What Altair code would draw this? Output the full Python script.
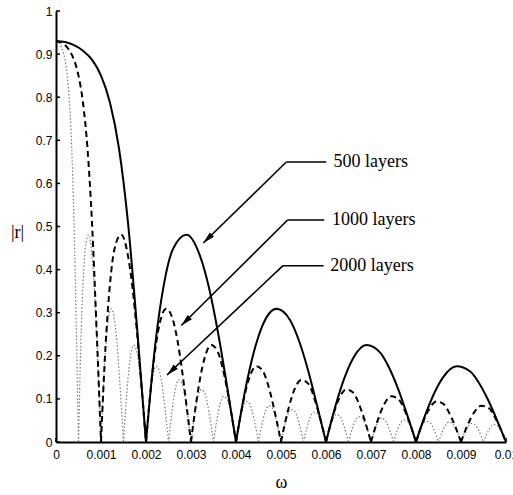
import math
import altair as alt
import pandas as pd

# ---------------- data ----------------
# 500 layers (solid) : one list per lobe
omega_500 = [
    [0, 0.0002, 0.0004, 0.0006, 0.0008, 0.0010, 0.0012, 0.0014, 0.0016, 0.0018, 0.0020],
    [0.0020, 0.0022, 0.0024, 0.0026, 0.0029, 0.0032, 0.0034, 0.0036, 0.0038, 0.0040],
    [0.0040, 0.0042, 0.0044, 0.0046, 0.0049, 0.0052, 0.0054, 0.0056, 0.0058, 0.0060],
    [0.0060, 0.0062, 0.0064, 0.0066, 0.0069, 0.0072, 0.0074, 0.0076, 0.0078, 0.0080],
    [0.0080, 0.0082, 0.0084, 0.0086, 0.0089, 0.0092, 0.0094, 0.0096, 0.0098, 0.0100],
]
r_500 = [
    [0.930, 0.928, 0.921, 0.908, 0.887, 0.850, 0.787, 0.681, 0.509, 0.267, 0],
    [0, 0.221, 0.367, 0.448, 0.481, 0.432, 0.358, 0.254, 0.130, 0],
    [0, 0.118, 0.210, 0.273, 0.309, 0.283, 0.235, 0.167, 0.085, 0],
    [0, 0.080, 0.146, 0.194, 0.225, 0.208, 0.173, 0.124, 0.064, 0],
    [0, 0.061, 0.112, 0.150, 0.176, 0.164, 0.137, 0.098, 0.051, 0],
]

# 1000 layers (dashed)
omega_1000 = [
    [0, 0.0001, 0.0002, 0.0003, 0.0004, 0.0005, 0.0006, 0.0007, 0.0008, 0.0009, 0.0010],
    [0.0010, 0.0011, 0.0012, 0.0013, 0.00145, 0.0016, 0.0017, 0.0018, 0.0019, 0.0020],
    [0.0020, 0.0021, 0.0022, 0.0023, 0.00245, 0.0026, 0.0027, 0.0028, 0.0029, 0.0030],
    [0.0030, 0.0031, 0.0032, 0.0033, 0.00345, 0.0036, 0.0037, 0.0038, 0.0039, 0.0040],
    [0.0040, 0.0041, 0.0042, 0.0043, 0.00445, 0.0046, 0.0047, 0.0048, 0.0049, 0.0050],
    [0.0050, 0.00515, 0.0053, 0.00545, 0.0056, 0.0058, 0.0060],
    [0.0060, 0.00615, 0.0063, 0.00645, 0.0066, 0.0068, 0.0070],
    [0.0070, 0.00715, 0.0073, 0.00745, 0.0076, 0.0078, 0.0080],
    [0.0080, 0.00815, 0.0083, 0.00845, 0.0086, 0.0088, 0.0090],
    [0.0090, 0.00915, 0.0093, 0.00945, 0.0096, 0.0098, 0.0100],
]
r_1000 = [
    [0.930, 0.928, 0.921, 0.908, 0.887, 0.850, 0.787, 0.681, 0.509, 0.267, 0],
    [0, 0.221, 0.367, 0.448, 0.481, 0.432, 0.358, 0.254, 0.130, 0],
    [0, 0.118, 0.210, 0.273, 0.309, 0.283, 0.235, 0.167, 0.085, 0],
    [0, 0.080, 0.146, 0.194, 0.225, 0.208, 0.173, 0.124, 0.064, 0],
    [0, 0.061, 0.112, 0.150, 0.176, 0.164, 0.137, 0.098, 0.051, 0],
    [0, 0.071, 0.122, 0.144, 0.136, 0.081, 0],
    [0, 0.059, 0.103, 0.122, 0.115, 0.069, 0],
    [0, 0.051, 0.089, 0.106, 0.100, 0.061, 0],
    [0, 0.045, 0.078, 0.094, 0.089, 0.054, 0],
    [0, 0.040, 0.070, 0.084, 0.080, 0.048, 0],
]

# 2000 layers (dotted)
omega_2000 = [
    [0, 0.00005, 0.0001, 0.00015, 0.0002, 0.00025, 0.0003, 0.00035, 0.0004, 0.00045, 0.0005],
    [0.0005, 0.00055, 0.0006, 0.00065, 0.000725, 0.0008, 0.00085, 0.0009, 0.00095, 0.0010],
    [0.0010, 0.00105, 0.0011, 0.00115, 0.001225, 0.0013, 0.00135, 0.0014, 0.00145, 0.0015],
    [0.0015, 0.00155, 0.0016, 0.00165, 0.001725, 0.0018, 0.00185, 0.0019, 0.00195, 0.0020],
    [0.0020, 0.00205, 0.0021, 0.00215, 0.002225, 0.0023, 0.00235, 0.0024, 0.00245, 0.0025],
    [0.0025, 0.002575, 0.00265, 0.002725, 0.0028, 0.0029, 0.0030],
    [0.0030, 0.003075, 0.00315, 0.003225, 0.0033, 0.0034, 0.0035],
    [0.0035, 0.003575, 0.00365, 0.003725, 0.0038, 0.0039, 0.0040],
    [0.0040, 0.004075, 0.00415, 0.004225, 0.0043, 0.0044, 0.0045],
    [0.0045, 0.004575, 0.00465, 0.004725, 0.0048, 0.0049, 0.0050],
    [0.0050, 0.005075, 0.00515, 0.005225, 0.0053, 0.0054, 0.0055],
    [0.0055, 0.005575, 0.00565, 0.005725, 0.0058, 0.0059, 0.0060],
    [0.0060, 0.006075, 0.00615, 0.006225, 0.0063, 0.0064, 0.0065],
    [0.0065, 0.006575, 0.00665, 0.006725, 0.0068, 0.0069, 0.0070],
    [0.0070, 0.007075, 0.00715, 0.007225, 0.0073, 0.0074, 0.0075],
    [0.0075, 0.007575, 0.00765, 0.007725, 0.0078, 0.0079, 0.0080],
    [0.0080, 0.008075, 0.00815, 0.008225, 0.0083, 0.0084, 0.0085],
    [0.0085, 0.008575, 0.00865, 0.008725, 0.0088, 0.0089, 0.0090],
    [0.0090, 0.009075, 0.00915, 0.009225, 0.0093, 0.0094, 0.0095],
    [0.0095, 0.009575, 0.00965, 0.009725, 0.0098, 0.0099, 0.0100],
]
r_2000 = [
    [0.930, 0.928, 0.921, 0.908, 0.887, 0.850, 0.787, 0.681, 0.509, 0.267, 0],
    [0, 0.221, 0.367, 0.448, 0.481, 0.432, 0.358, 0.254, 0.130, 0],
    [0, 0.118, 0.210, 0.273, 0.309, 0.283, 0.235, 0.167, 0.085, 0],
    [0, 0.080, 0.146, 0.194, 0.225, 0.208, 0.173, 0.124, 0.064, 0],
    [0, 0.061, 0.112, 0.150, 0.176, 0.164, 0.137, 0.098, 0.051, 0],
    [0, 0.071, 0.122, 0.144, 0.136, 0.081, 0],
    [0, 0.059, 0.103, 0.122, 0.115, 0.069, 0],
    [0, 0.051, 0.089, 0.106, 0.100, 0.061, 0],
    [0, 0.045, 0.078, 0.094, 0.089, 0.054, 0],
    [0, 0.040, 0.070, 0.084, 0.080, 0.048, 0],
    [0, 0.036, 0.063, 0.076, 0.072, 0.044, 0],
    [0, 0.033, 0.058, 0.069, 0.066, 0.040, 0],
    [0, 0.030, 0.053, 0.064, 0.061, 0.037, 0],
    [0, 0.028, 0.049, 0.059, 0.056, 0.034, 0],
    [0, 0.026, 0.046, 0.055, 0.052, 0.032, 0],
    [0, 0.024, 0.043, 0.051, 0.049, 0.030, 0],
    [0, 0.023, 0.040, 0.048, 0.046, 0.028, 0],
    [0, 0.021, 0.038, 0.046, 0.044, 0.027, 0],
    [0, 0.020, 0.036, 0.043, 0.041, 0.025, 0],
    [0, 0.019, 0.034, 0.041, 0.039, 0.024, 0],
]

x_ticks = [0, 0.001, 0.002, 0.003, 0.004, 0.005, 0.006, 0.007, 0.008, 0.009, 0.01]
y_ticks = [0, 0.1, 0.2, 0.3, 0.4, 0.5, 0.6, 0.7, 0.8, 0.9, 1]

# annotations
ann_labels = ["500 layers", "1000 layers", "2000 layers"]
ann_tip_omega = [0.003273, 0.002784, 0.002467]
ann_tip_r = [0.4617, 0.2703, 0.1555]
ann_knee_omega = [0.005118, 0.005147, 0.005044]
ann_knee_r = [0.6497, 0.5151, 0.4091]
ann_end_omega = [0.006007, 0.005962, 0.005947]
ann_text_omega = [0.006169, 0.006133, 0.006096]

# ---------------- build tables ----------------
W, H = 450, 431
X_MAX, Y_MAX = 0.01, 1.0


def curve_df(name, xs_list, ys_list):
    rows = []
    for i, (xs, ys) in enumerate(zip(xs_list, ys_list)):
        for x, y in zip(xs, ys):
            rows.append({"omega": x, "r": y, "lobe": f"{name}-{i}"})
    return pd.DataFrame(rows)


df500 = curve_df("500", omega_500, r_500)
df1000 = curve_df("1000", omega_1000, r_1000)
df2000 = curve_df("2000", omega_2000, r_2000)

segs = []
tips = []
texts = []
for lab, to, tr, ko, kr, eo, xo in zip(ann_labels, ann_tip_omega, ann_tip_r, ann_knee_omega,
                                       ann_knee_r, ann_end_omega, ann_text_omega):
    segs.append({"omega": ko, "r": kr, "omega2": to, "r2": tr})
    segs.append({"omega": ko, "r": kr, "omega2": eo, "r2": kr})
    dx = (to - ko) * W / X_MAX
    dy = -(tr - kr) * H / Y_MAX
    ang = math.degrees(math.atan2(dx, -dy)) % 360
    tips.append({"omega": to, "r": tr, "ang": ang})
    texts.append({"omega": xo, "r": kr, "label": lab})
seg_df = pd.DataFrame(segs)
tip_df = pd.DataFrame(tips)
text_df = pd.DataFrame(texts)
xt_df = pd.DataFrame({"omega": x_ticks})
yt_df = pd.DataFrame({"r": y_ticks})

# ---------------- encodings ----------------
x_axis = alt.Axis(values=x_ticks, format="~g", ticks=False, tickSize=0, labelPadding=7,
                  labelFlush=False, labelOverlap=False, grid=False,
                  domainColor="black", domainWidth=2,
                  labelFont="Liberation Sans", labelFontSize=12, labelColor="black",
                  title="ω", titleFont="Liberation Serif", titleFontSize=18,
                  titleFontWeight="normal", titleColor="black",
                  titleX=225, titleY=40, titleAlign="center", titleBaseline="middle")
y_axis = alt.Axis(values=y_ticks, format="~g", ticks=False, tickSize=0, labelPadding=4,
                  labelOverlap=False, grid=False,
                  domainColor="black", domainWidth=2,
                  labelFont="Liberation Sans", labelFontSize=12, labelColor="black",
                  title="|r|", titleFont="Liberation Serif", titleFontSize=18,
                  titleFontWeight="normal", titleColor="black", titleAngle=0,
                  titleX=-39, titleY=221, titleAlign="center", titleBaseline="middle")

X = alt.X("omega:Q", scale=alt.Scale(domain=[0, X_MAX], nice=False, zero=False), axis=x_axis)
Y = alt.Y("r:Q", scale=alt.Scale(domain=[0, Y_MAX], nice=False, zero=False), axis=y_axis)

dotted = alt.Chart(df2000).mark_line(interpolate="monotone", color="#7a7a7a", strokeWidth=1.2,
                                     strokeDash=[1.5, 2]).encode(x=X, y=Y, detail="lobe:N")
dashed = alt.Chart(df1000).mark_line(interpolate="monotone", color="black", strokeWidth=2,
                                     strokeDash=[6, 4]).encode(x=X, y=Y, detail="lobe:N")
solid = alt.Chart(df500).mark_line(interpolate="monotone", color="black",
                                   strokeWidth=2).encode(x=X, y=Y, detail="lobe:N")

xticks = alt.Chart(xt_df).mark_rule(color="black", strokeWidth=1.5).encode(
    x=X, y=alt.value(H), y2=alt.value(H - 4))
yticks = alt.Chart(yt_df).mark_rule(color="black", strokeWidth=1.5).encode(
    y=Y, x=alt.value(0), x2=alt.value(4))

arrows = alt.Chart(seg_df).mark_rule(color="black", strokeWidth=1.6).encode(
    x=X, y=Y, x2=alt.X2("omega2:Q"), y2=alt.Y2("r2:Q"))
heads = alt.Chart(tip_df).mark_point(shape="M0,0L-0.25,1L0.25,1Z", filled=True, size=576,
                                     color="black", opacity=1).encode(
    x=X, y=Y, angle=alt.Angle("ang:Q", scale=None))
labels = alt.Chart(text_df).mark_text(align="left", baseline="middle", font="Liberation Serif",
                                      fontSize=18, color="black").encode(
    x=X, y=Y, text="label:N")

chart = alt.layer(dotted, dashed, solid, xticks, yticks, arrows, heads, labels).properties(
    width=W, height=H,
    padding={"left": 56, "top": 11, "right": 7, "bottom": 53},
    autosize=alt.AutoSizeParams(type="none"),
    background="white",
).configure_view(stroke=None)

chart.save("out.html", embed_options={"renderer": "svg", "actions": False})
